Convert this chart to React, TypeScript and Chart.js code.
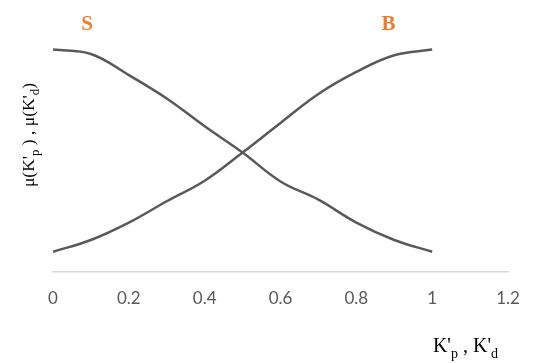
import React, { useEffect, useRef } from "react";
import { Chart, registerables } from "chart.js";

Chart.register(...registerables);

const xValues = [0, 0.1, 0.2, 0.3, 0.4, 0.5, 0.6, 0.7, 0.8, 0.9, 1.0];
const sValues = [1.0, 0.98, 0.885, 0.78, 0.655, 0.537, 0.407, 0.325, 0.222, 0.144, 0.091];
const bValues = [0.091, 0.144, 0.222, 0.318, 0.41, 0.537, 0.67, 0.8, 0.899, 0.974, 1.0];
const seriesLabels = ["S", "B"];
const xTicks = [0, 0.2, 0.4, 0.6, 0.8, 1, 1.2];

type Seg = { t: string; sub?: boolean };

function measureRich(ctx: CanvasRenderingContext2D, segs: Seg[], size: number, family: string) {
  let w = 0;
  for (const s of segs) {
    ctx.font = `${s.sub ? Math.round(size * 0.72) : size}px ${family}`;
    w += ctx.measureText(s.t).width;
  }
  return w;
}

function drawRich(ctx: CanvasRenderingContext2D, segs: Seg[], x: number, y: number, size: number, family: string) {
  let cx = x;
  ctx.textAlign = "left";
  ctx.textBaseline = "alphabetic";
  for (const s of segs) {
    const fs = s.sub ? Math.round(size * 0.72) : size;
    ctx.font = `${fs}px ${family}`;
    ctx.fillText(s.t, cx, s.sub ? y + size * 0.3 : y);
    cx += ctx.measureText(s.t).width;
  }
}

const yTitle: Seg[] = [
  { t: "μ(K'" },
  { t: "p", sub: true },
  { t: " ) , μ(K'" },
  { t: "d", sub: true },
  { t: ")" },
];
const xTitle: Seg[] = [
  { t: "K'" },
  { t: "p", sub: true },
  { t: " , K'" },
  { t: "d", sub: true },
];

const labelsPlugin = {
  id: "customLabels",
  afterDraw(chart: any) {
    const ctx: CanvasRenderingContext2D = chart.ctx;
    const xs = chart.scales.x;
    ctx.save();
    ctx.fillStyle = "#ED7D31";
    ctx.font = "bold 21px 'Liberation Serif'";
    ctx.textAlign = "center";
    ctx.textBaseline = "middle";
    ctx.fillText(seriesLabels[0], xs.getPixelForValue(0.09), 25);
    ctx.fillText(seriesLabels[1], xs.getPixelForValue(0.885), 25);

    ctx.fillStyle = "#000000";
    const fam = "'Liberation Serif'";
    const ySize = 17.5;
    const yw = measureRich(ctx, yTitle, ySize, fam);
    ctx.save();
    ctx.translate(34, 135);
    ctx.rotate(-Math.PI / 2);
    drawRich(ctx, yTitle, -yw / 2, 0, ySize, fam);
    ctx.restore();

    const xSize = 20;
    const xw = measureRich(ctx, xTitle, xSize, fam);
    drawRich(ctx, xTitle, 498 - xw, 352, xSize, fam);
    ctx.restore();
  },
};

export default function App() {
  const ref = useRef<HTMLCanvasElement | null>(null);
  useEffect(() => {
    document.body.style.margin = "0";
    if (!ref.current) return;
    const chart = new Chart(ref.current, {
      type: "line",
      data: {
        datasets: [
          {
            label: seriesLabels[0],
            data: xValues.map((x, i) => ({ x, y: sValues[i] })),
            borderColor: "#595959",
            borderWidth: 2.5,
            pointRadius: 0,
            tension: 0.4,
            fill: false,
          },
          {
            label: seriesLabels[1],
            data: xValues.map((x, i) => ({ x, y: bValues[i] })),
            borderColor: "#595959",
            borderWidth: 2.5,
            pointRadius: 0,
            tension: 0.4,
            fill: false,
          },
        ],
      },
      options: {
        animation: false,
        responsive: false,
        layout: { padding: { left: 53, right: 26, top: 5, bottom: 51 } },
        plugins: { legend: { display: false }, tooltip: { enabled: false } },
        scales: {
          x: {
            type: "linear",
            min: 0,
            max: 1.2,
            afterBuildTicks: (scale: any) => {
              scale.ticks = xTicks.map((v) => ({ value: v }));
            },
            afterFit: (scale: any) => {
              scale.height = 40;
              scale.paddingLeft = 0;
              scale.paddingRight = 0;
            },
            grid: { display: false, drawTicks: false },
            border: { display: true, color: "#D9D9D9", width: 1.5 },
            ticks: {
              padding: 16,
              color: "#595959",
              font: { family: "Lato", size: 17 },
              maxRotation: 0,
              autoSkip: false,
              callback: (v: any) => String(Number(Number(v).toFixed(1))),
            },
          },
          y: {
            display: false,
            min: 0,
            max: 1.2,
          },
        },
      },
      plugins: [labelsPlugin],
    });
    return () => chart.destroy();
  }, []);
  return (
    <div style={{ width: 534, height: 363, background: "#fff" }}>
      <canvas ref={ref} width={534} height={363} style={{ display: "block" }} />
    </div>
  );
}
